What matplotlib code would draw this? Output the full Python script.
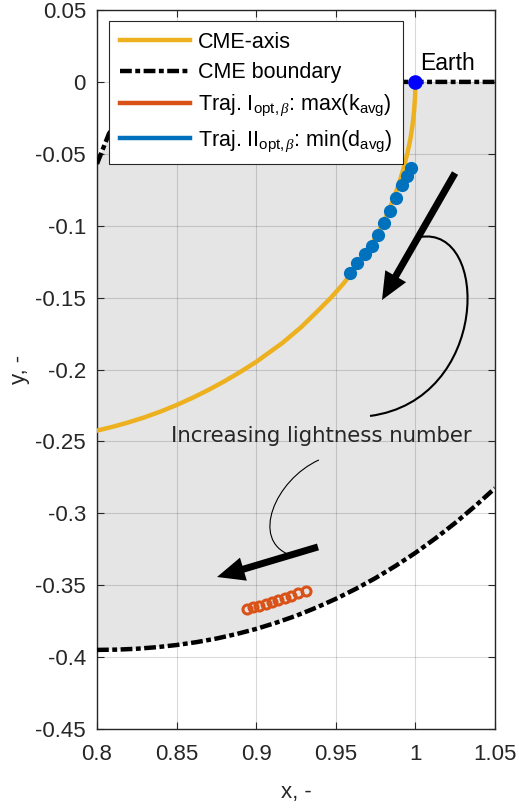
import matplotlib
matplotlib.use("Agg")
import matplotlib.pyplot as plt
from matplotlib.lines import Line2D
from matplotlib.patches import FancyArrowPatch, PathPatch
from matplotlib.path import Path

plt.rcParams["font.family"] = ["Liberation Sans", "DejaVu Sans"]
plt.rcParams["mathtext.fontset"] = "custom"
plt.rcParams["mathtext.rm"] = "Liberation Sans"
plt.rcParams["mathtext.it"] = "Liberation Serif:italic"
plt.rcParams["axes.unicode_minus"] = False
plt.rcParams["lines.scale_dashes"] = False

# CME axis, Earth end first
axis_x = [1.0000, 0.9998, 0.9992, 0.9982, 0.9968, 0.9949, 0.9926, 0.9899, 0.9867,
          0.9831, 0.9789, 0.9740, 0.9683, 0.9620, 0.9550, 0.9470, 0.9380, 0.9280,
          0.9165, 0.9000, 0.8900, 0.8800, 0.8700, 0.8600, 0.8500, 0.8400, 0.8300,
          0.8200, 0.8100, 0.8000]
axis_y = [0.000, -0.010, -0.020, -0.030, -0.040, -0.050, -0.060, -0.070, -0.080,
          -0.090, -0.100, -0.110, -0.120, -0.130, -0.140, -0.150, -0.160, -0.1708,
          -0.1815, -0.1947, -0.2017, -0.2082, -0.2142, -0.2197, -0.2247, -0.2292,
          -0.2332, -0.2367, -0.2398, -0.2425]

# CME boundary: upper edge and lower edge, left to right
upper_x = [0.800, 0.8075, 0.820, 0.840, 0.860, 0.880, 1.050]
upper_y = [-0.057, -0.036, -0.017, -0.005, -0.001, 0.000, 0.000]
lower_x = [0.8000, 0.8125, 0.8250, 0.8375, 0.8500, 0.8625, 0.8750, 0.8875, 0.9000,
           0.9125, 0.9250, 0.9375, 0.9500, 0.9625, 0.9750, 0.9875, 1.0000, 1.0125,
           1.0250, 1.0375, 1.0500]
lower_y = [-0.3950, -0.3948, -0.3942, -0.3931, -0.3916, -0.3896, -0.3871, -0.3840,
           -0.3804, -0.3761, -0.3713, -0.3657, -0.3595, -0.3526, -0.3450, -0.3366,
           -0.3275, -0.3175, -0.3067, -0.2950, -0.2825]

# optimal trajectories, one point per lightness number
traj1_x = [0.894, 0.898, 0.902, 0.906, 0.910, 0.914, 0.918, 0.922, 0.926, 0.931]
traj1_y = [-0.3665, -0.3655, -0.3643, -0.3630, -0.3617, -0.3603, -0.3588, -0.3573,
           -0.3557, -0.3540]
traj2_x = [0.9972, 0.9947, 0.9916, 0.9878, 0.9840, 0.9805, 0.9767, 0.9725, 0.9683,
           0.9635, 0.9589]
traj2_y = [-0.0599, -0.0654, -0.0717, -0.0807, -0.0898, -0.0979, -0.1063, -0.1141,
           -0.1197, -0.1257, -0.1331]

earth_x, earth_y = [1.0], [0.0]

xticks = [0.8, 0.85, 0.9, 0.95, 1.0, 1.05]
xtick_labels = ["0.8", "0.85", "0.9", "0.95", "1", "1.05"]
yticks = [0.05, 0.0, -0.05, -0.1, -0.15, -0.2, -0.25, -0.3, -0.35, -0.4, -0.45]
ytick_labels = ["0.05", "0", "-0.05", "-0.1", "-0.15", "-0.2", "-0.25", "-0.3",
                "-0.35", "-0.4", "-0.45"]

C_AXIS = "#EDB120"
C_T1 = "#D95319"
C_T2 = "#0072BD"
C_TXT = "#262626"
BND_DASH = (0, (8.5, 2.5, 3.5, 2.5))

fig = plt.figure(figsize=(5.19, 8.08), dpi=100)
ax = fig.add_axes([97 / 519, 79 / 808, 398 / 519, 719 / 808])

# shaded CME region
poly_x = upper_x + lower_x[::-1]
poly_y = upper_y + lower_y[::-1]
ax.fill(poly_x, poly_y, color="#E5E5E5", lw=0, zorder=0)

ax.plot(upper_x, upper_y, color="k", lw=3.2, linestyle=BND_DASH, zorder=3)
ax.plot(lower_x, lower_y, color="k", lw=3.2, linestyle=BND_DASH, zorder=3)
ax.plot(axis_x, axis_y, color=C_AXIS, lw=3.2, zorder=4, solid_joinstyle="round")
ax.plot(traj1_x, traj1_y, "o", ms=6.5, mfc="none", mec=C_T1, mew=2.2, zorder=5)
ax.plot(traj2_x, traj2_y, "o", ms=8.5, mfc=C_T2, mec=C_T2, zorder=5)
ax.plot(earth_x, earth_y, "o", ms=9.5, mfc="#0000FF", mec="#0000FF", zorder=11)
ax.text(1.003, 0.0083, "Earth", fontsize=16.5, color="k", ha="left", va="baseline")

# arrows showing increasing lightness number
for tail, tip in [((1.0249, -0.0634), (0.9790, -0.1517)),
                  ((0.9388, -0.3234), (0.8754, -0.3443))]:
    ax.add_patch(FancyArrowPatch(tail, tip, arrowstyle="simple,head_length=0.55,head_width=0.48,tail_width=0.14",
                                 mutation_scale=36, color="k", lw=0, shrinkA=0, shrinkB=0, zorder=7))

ax.add_patch(PathPatch(Path([(1.0029, -0.1079), (1.0469, -0.0995), (1.0469, -0.2212), (0.9715, -0.2323)],
                            [Path.MOVETO, Path.CURVE4, Path.CURVE4, Path.CURVE4]),
                       fc="none", ec="k", lw=1.5, zorder=7))
ax.add_patch(PathPatch(Path([(0.9394, -0.2629), (0.9118, -0.2768), (0.8961, -0.3186), (0.9212, -0.3290)],
                            [Path.MOVETO, Path.CURVE4, Path.CURVE4, Path.CURVE4]),
                       fc="none", ec="k", lw=0.8, zorder=7))
ax.text(0.941, -0.2462, "Increasing lightness number", fontsize=15.3, color=C_TXT,
        family="DejaVu Sans", ha="center", va="center", zorder=8)

ax.set_xlim(0.8, 1.05)
ax.set_ylim(-0.45, 0.05)
ax.set_xticks(xticks)
ax.set_xticklabels(xtick_labels)
ax.set_yticks(yticks)
ax.set_yticklabels(ytick_labels)
ax.tick_params(direction="in", length=5, width=0.8, top=True, right=True,
               labelsize=16, colors=C_TXT, pad=8)
ax.tick_params(axis="x", pad=11)
ax.grid(True, color="k", alpha=0.15, lw=0.8)
ax.set_axisbelow(True)
for s in ax.spines.values():
    s.set_color(C_TXT)
    s.set_linewidth(1.0)
ax.set_xlabel("x, -", fontsize=16, color=C_TXT, labelpad=12)
ax.set_ylabel("y, -", fontsize=16, color=C_TXT, labelpad=4)

handles = [
    Line2D([], [], color=C_AXIS, lw=3.2),
    Line2D([], [], color="k", lw=3.2, linestyle=BND_DASH),
    Line2D([], [], color=C_T1, lw=3.2),
    Line2D([], [], color=C_T2, lw=3.2),
]
labels = [
    "CME-axis",
    "CME boundary",
    r"Traj. I$_{\mathrm{opt,}\beta}$: max(k$_{\mathrm{avg}}$)",
    r"Traj. II$_{\mathrm{opt,}\beta}$: min(d$_{\mathrm{avg}}$)",
]
leg = ax.legend(handles, labels, loc="upper left", bbox_to_anchor=(0.030, 0.985),
                borderaxespad=0, fontsize=15.5, handlelength=3.25, handletextpad=0.4,
                borderpad=0.5, labelspacing=0.45, fancybox=False, framealpha=1)
leg.get_frame().set_edgecolor(C_TXT)
leg.get_frame().set_linewidth(0.8)
leg.set_zorder(10)

fig.savefig("out.png", dpi=100, facecolor="white")
